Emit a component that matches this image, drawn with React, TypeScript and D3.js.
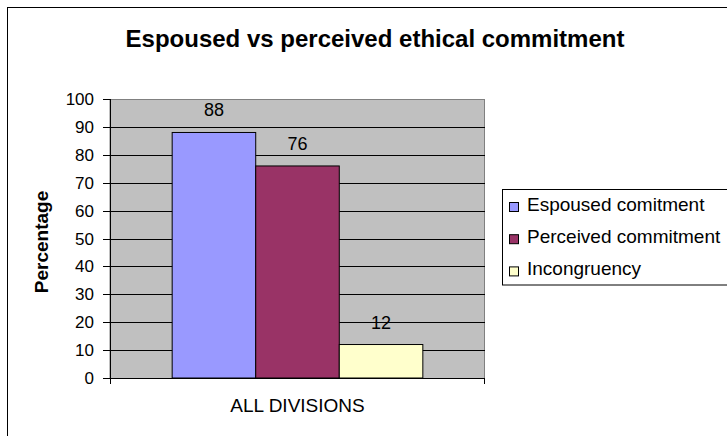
import React from "react";
import * as d3 from "d3";

const categories = ["ALL DIVISIONS"];
const seriesNames = ["Espoused comitment", "Perceived commitment", "Incongruency"];
const seriesValues = [88, 76, 12];
const seriesColors = ["#9999FF", "#993366", "#FFFFCC"];
const yTicks = [0, 10, 20, 30, 40, 50, 60, 70, 80, 90, 100];
const title = "Espoused vs perceived ethical commitment";
const yTitle = "Percentage";

const W = 727;
const H = 436;
const plot = { left: 110, right: 485, top: 99, bottom: 378 };
const font = "'Liberation Sans', Arial, sans-serif";

export default function App() {
  const x = d3
    .scaleBand<string>()
    .domain(categories)
    .range([plot.left, plot.right])
    .paddingInner(0)
    .paddingOuter(0.248);
  const xs = d3
    .scaleBand<string>()
    .domain(seriesNames)
    .range([0, x.bandwidth()])
    .padding(0);
  const y = d3.scaleLinear().domain([0, 100]).range([plot.bottom, plot.top]);

  const legendX = 502;
  const legendTop = 189.5;
  const rowStep = 32.2;

  return (
    <svg
      width={W}
      height={H}
      style={{ position: "absolute", left: 0, top: 0, background: "#fff" }}
      fontFamily={font}
    >
      <rect x={0} y={0} width={W} height={H} fill="#fff" />
      {/* outer border */}
      <rect x={7.5} y={7.5} width={740} height={450} fill="none" stroke="#000" strokeWidth={1} />

      {/* title */}
      <text x={375} y={47} textAnchor="middle" fontSize={24} fontWeight="bold" fill="#000">
        {title}
      </text>

      {/* plot area */}
      <rect
        x={plot.left}
        y={plot.top + 0.5}
        width={plot.right - plot.left - 0.5}
        height={plot.bottom - plot.top}
        fill="#C0C0C0"
        stroke="#808080"
        strokeWidth={1}
      />
      {yTicks
        .filter((t) => t > 0 && t < 100)
        .map((t) => (
          <line
            key={"g" + t}
            x1={plot.left}
            x2={plot.right}
            y1={Math.round(y(t)) + 0.5}
            y2={Math.round(y(t)) + 0.5}
            stroke="#000"
            strokeWidth={1}
          />
        ))}

      {/* bars */}
      {categories.map((c) =>
        seriesNames.map((s, i) => {
          const bx = (x(c) as number) + (xs(s) as number);
          const by = y(seriesValues[i]);
          return (
            <g key={c + s}>
              <rect
                x={bx}
                y={by}
                width={xs.bandwidth()}
                height={plot.bottom - by}
                fill={seriesColors[i]}
                stroke="#000"
                strokeWidth={1}
              />
              <text
                x={bx + xs.bandwidth() / 2}
                y={by - 16}
                textAnchor="middle"
                fontSize={18}
                fill="#000"
              >
                {seriesValues[i]}
              </text>
            </g>
          );
        })
      )}

      {/* axes */}
      <line x1={plot.left + 0.5} x2={plot.left + 0.5} y1={plot.top} y2={plot.bottom + 6} stroke="#000" />
      <line x1={plot.left} x2={plot.right} y1={plot.bottom + 0.5} y2={plot.bottom + 0.5} stroke="#000" />
      <line x1={plot.right - 0.5} x2={plot.right - 0.5} y1={plot.bottom} y2={plot.bottom + 6} stroke="#000" />
      {yTicks.map((t) => (
        <g key={"t" + t}>
          <line
            x1={plot.left - 7}
            x2={plot.left}
            y1={Math.round(y(t)) + 0.5}
            y2={Math.round(y(t)) + 0.5}
            stroke="#000"
          />
          <text x={94} y={y(t) + 6} textAnchor="end" fontSize={17} fill="#000">
            {t}
          </text>
        </g>
      ))}

      {/* category label */}
      {categories.map((c) => (
        <text
          key={"c" + c}
          x={(x(c) as number) + x.bandwidth() / 2}
          y={411.5}
          textAnchor="middle"
          fontSize={19}
          fill="#000"
        >
          {c}
        </text>
      ))}

      {/* y title */}
      <text
        transform={`translate(48, 242) rotate(-90)`}
        textAnchor="middle"
        fontSize={19}
        fontWeight="bold"
        fill="#000"
      >
        {yTitle}
      </text>

      {/* legend */}
      <rect x={legendX + 0.5} y={legendTop} width={260} height={95.5} fill="#fff" stroke="#000" />
      {seriesNames.map((s, i) => {
        const base = 211 + i * rowStep;
        return (
          <g key={"l" + s}>
            <rect
              x={509.5}
              y={base - 8.5}
              width={9}
              height={9}
              fill={seriesColors[i]}
              stroke="#000"
              strokeWidth={1}
            />
            <text x={527} y={base} fontSize={19} fill="#000">
              {s}
            </text>
          </g>
        );
      })}
    </svg>
  );
}
